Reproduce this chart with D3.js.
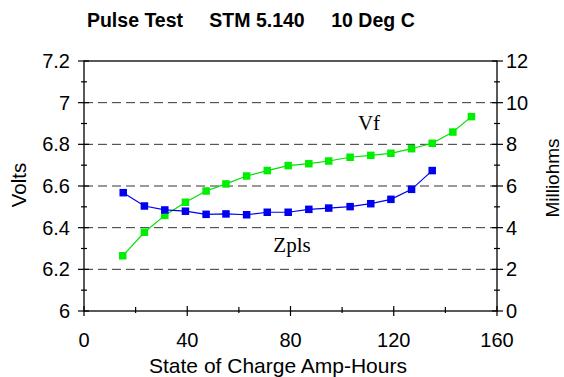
<!DOCTYPE html>
<html><head><meta charset="utf-8">
<script src="https://cdn.jsdelivr.net/npm/d3@7"></script>
<style>body{margin:0;background:#fff}svg{display:block}</style>
</head><body>
<svg id="c" width="564" height="377"></svg>
<script>
const vfAh = [15.0,23.4,31.3,39.3,47.3,55.0,63.0,71.0,79.1,87.1,94.8,103.1,111.1,118.9,126.9,134.9,142.9,150.1];
const vfVolts = [6.265,6.378,6.459,6.522,6.576,6.610,6.648,6.674,6.698,6.707,6.720,6.738,6.747,6.757,6.779,6.805,6.859,6.933];
const zAh = [15.2,23.4,31.3,39.3,47.3,55.0,63.0,71.0,79.1,87.1,94.8,103.1,111.1,118.9,126.9,134.9];
const zMilliohms = [5.68,5.04,4.85,4.79,4.64,4.66,4.62,4.74,4.74,4.88,4.94,5.01,5.15,5.36,5.84,6.74];
const xTicks = [0,40,80,120,160];
const yLeftTicks = [6,6.2,6.4,6.6,6.8,7,7.2];
const yRightTicks = [0,2,4,6,8,10,12];
const gridVals = [6.2,6.4,6.6,6.8,7.0];
const titleParts = ['Pulse Test','STM 5.140','10 Deg C'];

const svg = d3.select('#c');
const L=84,R=497,T=61,B=311;
const x = d3.scaleLinear().domain([0,160]).range([L,R]);
const yl = d3.scaleLinear().domain([6,7.2]).range([B,T]);
const yr = d3.scaleLinear().domain([0,12]).range([B,T]);
const font = 'Liberation Sans, Arial, Helvetica, sans-serif';

// grid
svg.append('g').selectAll('line').data(gridVals).join('line')
  .attr('x1',L).attr('x2',R).attr('y1',d=>yl(d)).attr('y2',d=>yl(d))
  .attr('stroke','#333').attr('stroke-width',1).attr('stroke-dasharray','9,5');

// frame
svg.append('rect').attr('x',L).attr('y',T).attr('width',R-L).attr('height',B-T)
  .attr('fill','none').attr('stroke','#000').attr('stroke-width',1.3);

// ticks
const tk = svg.append('g').attr('stroke','#000').attr('stroke-width',1.2);
const xMinor = d3.range(20,160,40), ylMinor = d3.range(6.1,7.2,0.2), yrMinor = d3.range(1,12,2);
xTicks.forEach(v=>tk.append('line').attr('x1',x(v)).attr('x2',x(v)).attr('y1',B-5).attr('y2',B+5));
xMinor.forEach(v=>tk.append('line').attr('x1',x(v)).attr('x2',x(v)).attr('y1',B-4).attr('y2',B+2));
yLeftTicks.forEach(v=>tk.append('line').attr('x1',L-6).attr('x2',L+5).attr('y1',yl(v)).attr('y2',yl(v)));
ylMinor.forEach(v=>tk.append('line').attr('x1',L-3).attr('x2',L+3).attr('y1',yl(v)).attr('y2',yl(v)));
yRightTicks.forEach(v=>tk.append('line').attr('x1',R-5).attr('x2',R+6).attr('y1',yr(v)).attr('y2',yr(v)));
yrMinor.forEach(v=>tk.append('line').attr('x1',R-3).attr('x2',R+3).attr('y1',yr(v)).attr('y2',yr(v)));

// tick labels
const tl = svg.append('g').attr('font-family',font).attr('font-size',20).attr('fill','#000');
xTicks.forEach(v=>tl.append('text').attr('x',x(v)).attr('y',347).attr('text-anchor','middle').text(v));
yLeftTicks.forEach(v=>tl.append('text').attr('x',70).attr('y',yl(v)+7).attr('text-anchor','end').text(d3.format('~g')(v)));
yRightTicks.forEach(v=>tl.append('text').attr('x',506).attr('y',yr(v)+7).attr('text-anchor','start').text(v));

// axis titles
svg.append('text').attr('x',278).attr('y',373).attr('text-anchor','middle').attr('font-family',font).attr('font-size',21).text('State of Charge Amp-Hours');
svg.append('text').attr('transform','translate(26,185) rotate(-90)').attr('text-anchor','middle').attr('font-family',font).attr('font-size',20.5).text('Volts');
svg.append('text').attr('transform','translate(559,178) rotate(-90)').attr('text-anchor','middle').attr('font-family',font).attr('font-size',19).text('Milliohms');
const titleX=[135,257,373];
svg.append('g').selectAll('text').data(titleParts).join('text')
  .attr('x',(d,i)=>titleX[i]).attr('y',27).attr('text-anchor','middle')
  .attr('font-family',font).attr('font-size',19.5).attr('font-weight','bold').text(d=>d);

// series
const vf = vfAh.map((a,i)=>[a,vfVolts[i]]);
const zp = zAh.map((a,i)=>[a,zMilliohms[i]]);
svg.append('path').datum(vf).attr('fill','none').attr('stroke','#00e000').attr('stroke-width',1.2)
  .attr('d',d3.line().x(d=>x(d[0])).y(d=>yl(d[1])));
svg.append('path').datum(zp).attr('fill','none').attr('stroke','#0000ee').attr('stroke-width',1.2)
  .attr('d',d3.line().x(d=>x(d[0])).y(d=>yr(d[1])));
const s=7.5;
svg.append('g').selectAll('rect').data(vf).join('rect').attr('x',d=>x(d[0])-s/2).attr('y',d=>yl(d[1])-s/2).attr('width',s).attr('height',s).attr('fill','#00ee00');
svg.append('g').selectAll('rect').data(zp).join('rect').attr('x',d=>x(d[0])-s/2).attr('y',d=>yr(d[1])-s/2).attr('width',s).attr('height',s).attr('fill','#0000ee');

// labels
const serif='Liberation Serif, Times New Roman, serif';
svg.append('text').attr('x',369).attr('y',130).attr('text-anchor','middle').attr('font-family',serif).attr('font-size',21).text('Vf');
svg.append('text').attr('x',292).attr('y',252).attr('text-anchor','middle').attr('font-family',serif).attr('font-size',21).text('Zpls');
</script>
</body></html>
